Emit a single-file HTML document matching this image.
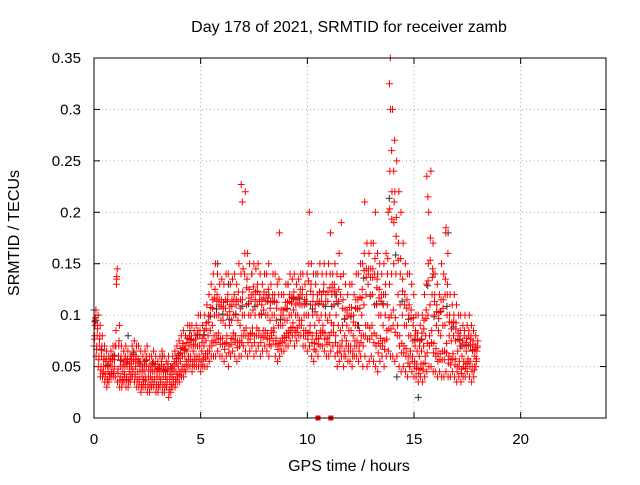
<!DOCTYPE html>
<html><head><meta charset="utf-8"><style>
body{margin:0;background:#fff;}
svg text{font-family:"Liberation Sans",sans-serif;fill:#000;}
</style></head><body>
<svg id="chart" width="640" height="480" xmlns="http://www.w3.org/2000/svg">
<rect width="640" height="480" fill="#fff"/>
<text x="349" y="32" font-size="16" text-anchor="middle">Day 178 of 2021, SRMTID for receiver zamb</text>
<text x="349" y="471" font-size="16" text-anchor="middle">GPS time / hours</text>
<text x="19" y="233" font-size="16" text-anchor="middle" transform="rotate(-90 19 233)">SRMTID / TECUs</text>
<g id="grid"></g>
<g id="ticks"></g>
<g id="marks"></g>
<rect x="94" y="58" width="512" height="360" fill="none" stroke="#000" stroke-width="1"/>
</svg>
<script>
const xTicks=[0,5,10,15,20];
const yTicks=[0,0.05,0.1,0.15,0.2,0.25,0.3,0.35];
const yTickLabels=["0","0.05","0.1","0.15","0.2","0.25","0.3","0.35"];
const binStart=0, binStep=0.1;
const lo=[.07,.06,.05,.04,.04,.035,.03,.035,.04,.04,
.04,.035,.03,.03,.035,.03,.03,.035,.04,.035,
.03,.03,.025,.03,.03,.025,.025,.03,.03,.025,
.025,.03,.025,.025,.03,.02,.025,.03,.03,.035,
.035,.04,.04,.045,.05,.05,.045,.05,.05,.05,
.045,.05,.05,.05,.055,.06,.06,.06,.065,.06,
.06,.055,.06,.05,.06,.065,.06,.055,.06,.06,
.07,.065,.06,.065,.07,.06,.065,.07,.06,.065,
.07,.065,.06,.07,.075,.06,.055,.06,.065,.065,
.07,.07,.075,.08,.07,.075,.08,.08,.07,.07,
.065,.07,.06,.055,.065,.06,.07,.07,.065,.06,
.06,.065,.07,.06,.05,.055,.06,.05,.06,.055,
.055,.05,.06,.06,.055,.06,.05,.06,.05,.055,
.06,.055,.05,.045,.055,.06,.05,.06,.065,.06,
.06,.055,.06,.05,.045,.05,.045,.04,.05,.045,
.04,.04,.035,.04,.035,.04,.045,.05,.05,.045,
.045,.04,.045,.04,.04,.045,.04,.04,.045,.04,
.035,.04,.035,.04,.04,.045,.04,.035,.04,.05];
const mid=[.09,.08,.07,.06,.05,.05,.045,.05,.05,.05,
.13,.06,.05,.045,.05,.05,.045,.05,.055,.05,
.045,.045,.04,.045,.05,.04,.04,.045,.045,.04,
.04,.045,.04,.04,.045,.035,.04,.045,.045,.05,
.055,.06,.06,.065,.07,.07,.065,.07,.07,.07,
.065,.07,.075,.08,.085,.09,.1,.1,.1,.095,
.095,.09,.1,.09,.095,.1,.1,.095,.09,.1,
.1,.11,.1,.1,.105,.1,.11,.1,.1,.105,
.1,.1,.095,.1,.1,.095,.09,.09,.09,.095,
.095,.1,.1,.105,.1,.1,.11,.11,.1,.1,
.1,.11,.1,.09,.1,.095,.1,.11,.1,.095,
.1,.12,.11,.1,.09,.085,.09,.08,.09,.085,
.085,.08,.09,.09,.085,.1,.11,.12,.13,.12,
.12,.11,.11,.1,.1,.09,.1,.11,.13,.14,
.15,.14,.12,.11,.1,.09,.09,.08,.08,.075,
.07,.065,.06,.065,.07,.08,.1,.11,.12,.1,
.09,.085,.08,.09,.09,.1,.08,.075,.08,.075,
.065,.07,.06,.07,.065,.07,.07,.065,.06,.065];
const hi=[.105,.1,.09,.08,.07,.065,.06,.065,.07,.07,
.145,.09,.07,.065,.07,.065,.06,.07,.075,.07,
.07,.065,.06,.065,.07,.06,.06,.065,.06,.055,
.06,.065,.06,.055,.06,.05,.06,.065,.07,.075,
.08,.085,.08,.09,.09,.09,.085,.09,.1,.1,
.09,.1,.11,.12,.13,.14,.15,.14,.13,.135,
.13,.14,.14,.13,.135,.14,.13,.15,.14,.145,
.22,.16,.15,.14,.15,.145,.15,.14,.13,.14,
.14,.15,.13,.14,.14,.13,.18,.12,.12,.13,
.13,.14,.135,.14,.13,.135,.14,.14,.13,.14,
.2,.15,.14,.13,.14,.15,.14,.15,.14,.15,
.18,.14,.15,.14,.16,.19,.14,.13,.12,.13,
.13,.12,.14,.14,.15,.15,.21,.17,.16,.17,
.17,.2,.16,.15,.14,.15,.16,.2,.35,.3,
.27,.25,.22,.2,.17,.15,.14,.14,.13,.12,
.1,.1,.09,.1,.12,.13,.2,.24,.17,.14,
.13,.12,.15,.14,.18,.16,.12,.11,.12,.11,
.1,.1,.09,.1,.09,.1,.09,.085,.08,.075];
const spikeTimes=[6.9,6.95,13.85,13.9,13.95,14.05,14.1,15.6,15.65,16.5];
const spikeValues=[0.227,0.21,0.325,0.3,0.26,0.24,0.22,0.235,0.215,0.185];
const blackTimes=[0,0.1,1.6,3.2,4.5,5.8,6.3,7.4,8.2,9.1,10.4,11.3,12.4,13.3,14.2,14.8,15.2,15.9,16.6,17.2];
const blackValues=[0.105,0.095,0.08,0.06,0.085,0.15,0.13,0.14,0.12,0.13,0.14,0.12,0.09,0.14,0.04,0.05,0.02,0.14,0.18,0.07];
const zeroTimes=[10.5,11.1];

const X=t=>94+t*(512/24);
const Y=v=>418-v*(360/0.35);
const NS="http://www.w3.org/2000/svg";
const grid=document.getElementById('grid'),ticks=document.getElementById('ticks'),marks=document.getElementById('marks');
function line(p,x1,y1,x2,y2,st,dash){const l=document.createElementNS(NS,'line');l.setAttribute('x1',x1);l.setAttribute('y1',y1);l.setAttribute('x2',x2);l.setAttribute('y2',y2);l.setAttribute('stroke',st);if(dash)l.setAttribute('stroke-dasharray',dash);p.appendChild(l);return l;}
xTicks.forEach(t=>{const x=X(t);
 if(t>0){const g=line(grid,x,58,x,418,'#aaa','1,3');

}
 line(ticks,x,418,x,412,'#000');line(ticks,x,58,x,64,'#000');
 const tx=document.createElementNS(NS,'text');tx.setAttribute('x',x);tx.setAttribute('y',444);tx.setAttribute('font-size','15');tx.setAttribute('text-anchor','middle');tx.textContent=t;


 ticks.appendChild(tx);});
yTicks.forEach((v,i)=>{const y=Y(v);
 if(v>0&&v<0.35){const g=line(grid,94,y,606,y,'#aaa','1,3');

}
 line(ticks,94,y,100,y,'#000');line(ticks,606,y,600,y,'#000');
 const tx=document.createElementNS(NS,'text');tx.setAttribute('x',81);tx.setAttribute('y',y+5);tx.setAttribute('font-size','15');tx.setAttribute('text-anchor','end');tx.textContent=yTickLabels[i];


 ticks.appendChild(tx);});
let d='';
function plus(t,v){const x=X(t),y=Y(v);return `M${(x-3.5).toFixed(1)} ${y.toFixed(1)}h7M${x.toFixed(1)} ${(y-3.5).toFixed(1)}v7`;}
let db='';
blackTimes.forEach((t,i)=>{db+=plus(t,blackValues[i]);});
lo.forEach((l,i)=>{const t=binStart+i*binStep,m=mid[i],h=hi[i];
 d+=plus(t,l)+plus(t+0.03,(l+m)/2)+plus(t+0.05,m)+plus(t+0.07,(m+h)/2)+plus(t+0.09,h)+plus(t+0.02,(2*l+m)/3)+plus(t+0.06,(m*2+h)/3);
 if(i%3===0) db+=plus(t+0.04,(l+h)/2+0.006);});
spikeTimes.forEach((t,i)=>{d+=plus(t,spikeValues[i]);});
const pb=document.createElementNS(NS,'path');pb.setAttribute('d',db);pb.setAttribute('stroke','#333');pb.setAttribute('stroke-width','1');pb.setAttribute('fill','none');


marks.appendChild(pb);
const pr=document.createElementNS(NS,'path');pr.setAttribute('d',d);pr.setAttribute('stroke','#f00');pr.setAttribute('stroke-width','1');pr.setAttribute('fill','none');


marks.appendChild(pr);
zeroTimes.forEach(t=>{const r=document.createElementNS(NS,'rect');r.setAttribute('x',X(t)-2.5);r.setAttribute('y',Y(0)-2.5);r.setAttribute('width',5);r.setAttribute('height',5);r.setAttribute('fill','#f00');


marks.appendChild(r);});
</script>
</body></html>
